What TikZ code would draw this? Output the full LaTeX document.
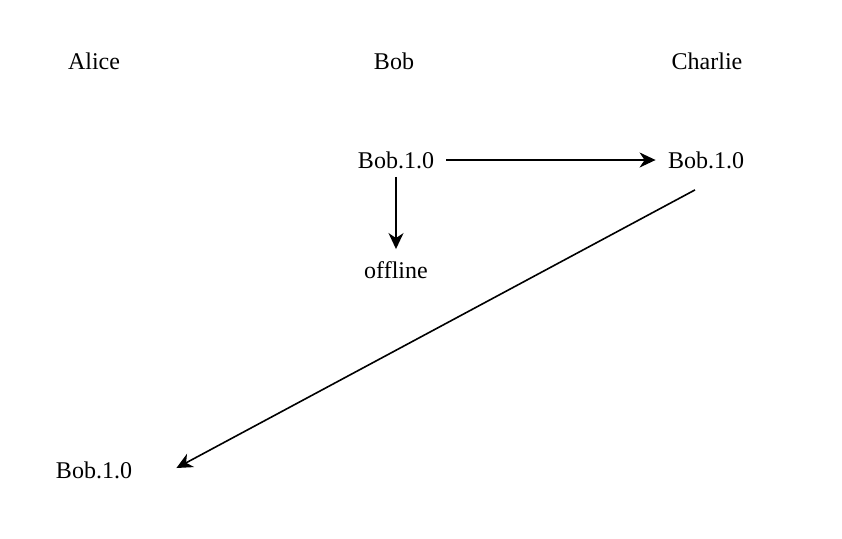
\documentclass[tikz,border=0pt]{standalone}
\usepackage{fontspec}
\setmainfont{Liberation Serif}
\usetikzlibrary{arrows.meta}

\begin{document}
\begin{tikzpicture}[x=0.5pt,y=-0.5pt,
    lbl/.style={font=\fontsize{12}{14}\selectfont,inner sep=3pt},
    flow/.style={-{Stealth[length=8pt,width=7.5pt,inset=2.5pt]},line width=0.8pt}]
\useasboundingbox (0,0) rectangle (842,538);
            % Names
\node[lbl] (alice)   at (94 ,61 ) {Alice};
\node[lbl] (bob)     at (394,61 ) {Bob};
\node[lbl] (charlie) at (707,61 ) {Charlie};
            % Versions
\node[lbl] (bobv)     at (396,160) {Bob.1.0};
\node[lbl] (charliev) at (706,160) {Bob.1.0};
\node[lbl] (offline)  at (396,270) {offline};
\node[lbl] (alicev)   at (94 ,470) {Bob.1.0};
%Edges
\draw[flow,shorten <=3pt,shorten >=3pt] (bobv.east) -- (charliev.west);
\draw[flow,shorten <=1pt,shorten >=3pt] (bobv.south) -- (offline.north);
\draw[flow] ([xshift=-5.5pt,yshift=-7.5pt]charliev.south) -- ([xshift=19pt,yshift=1pt]alicev.east);

\end{tikzpicture}
\end{document}
